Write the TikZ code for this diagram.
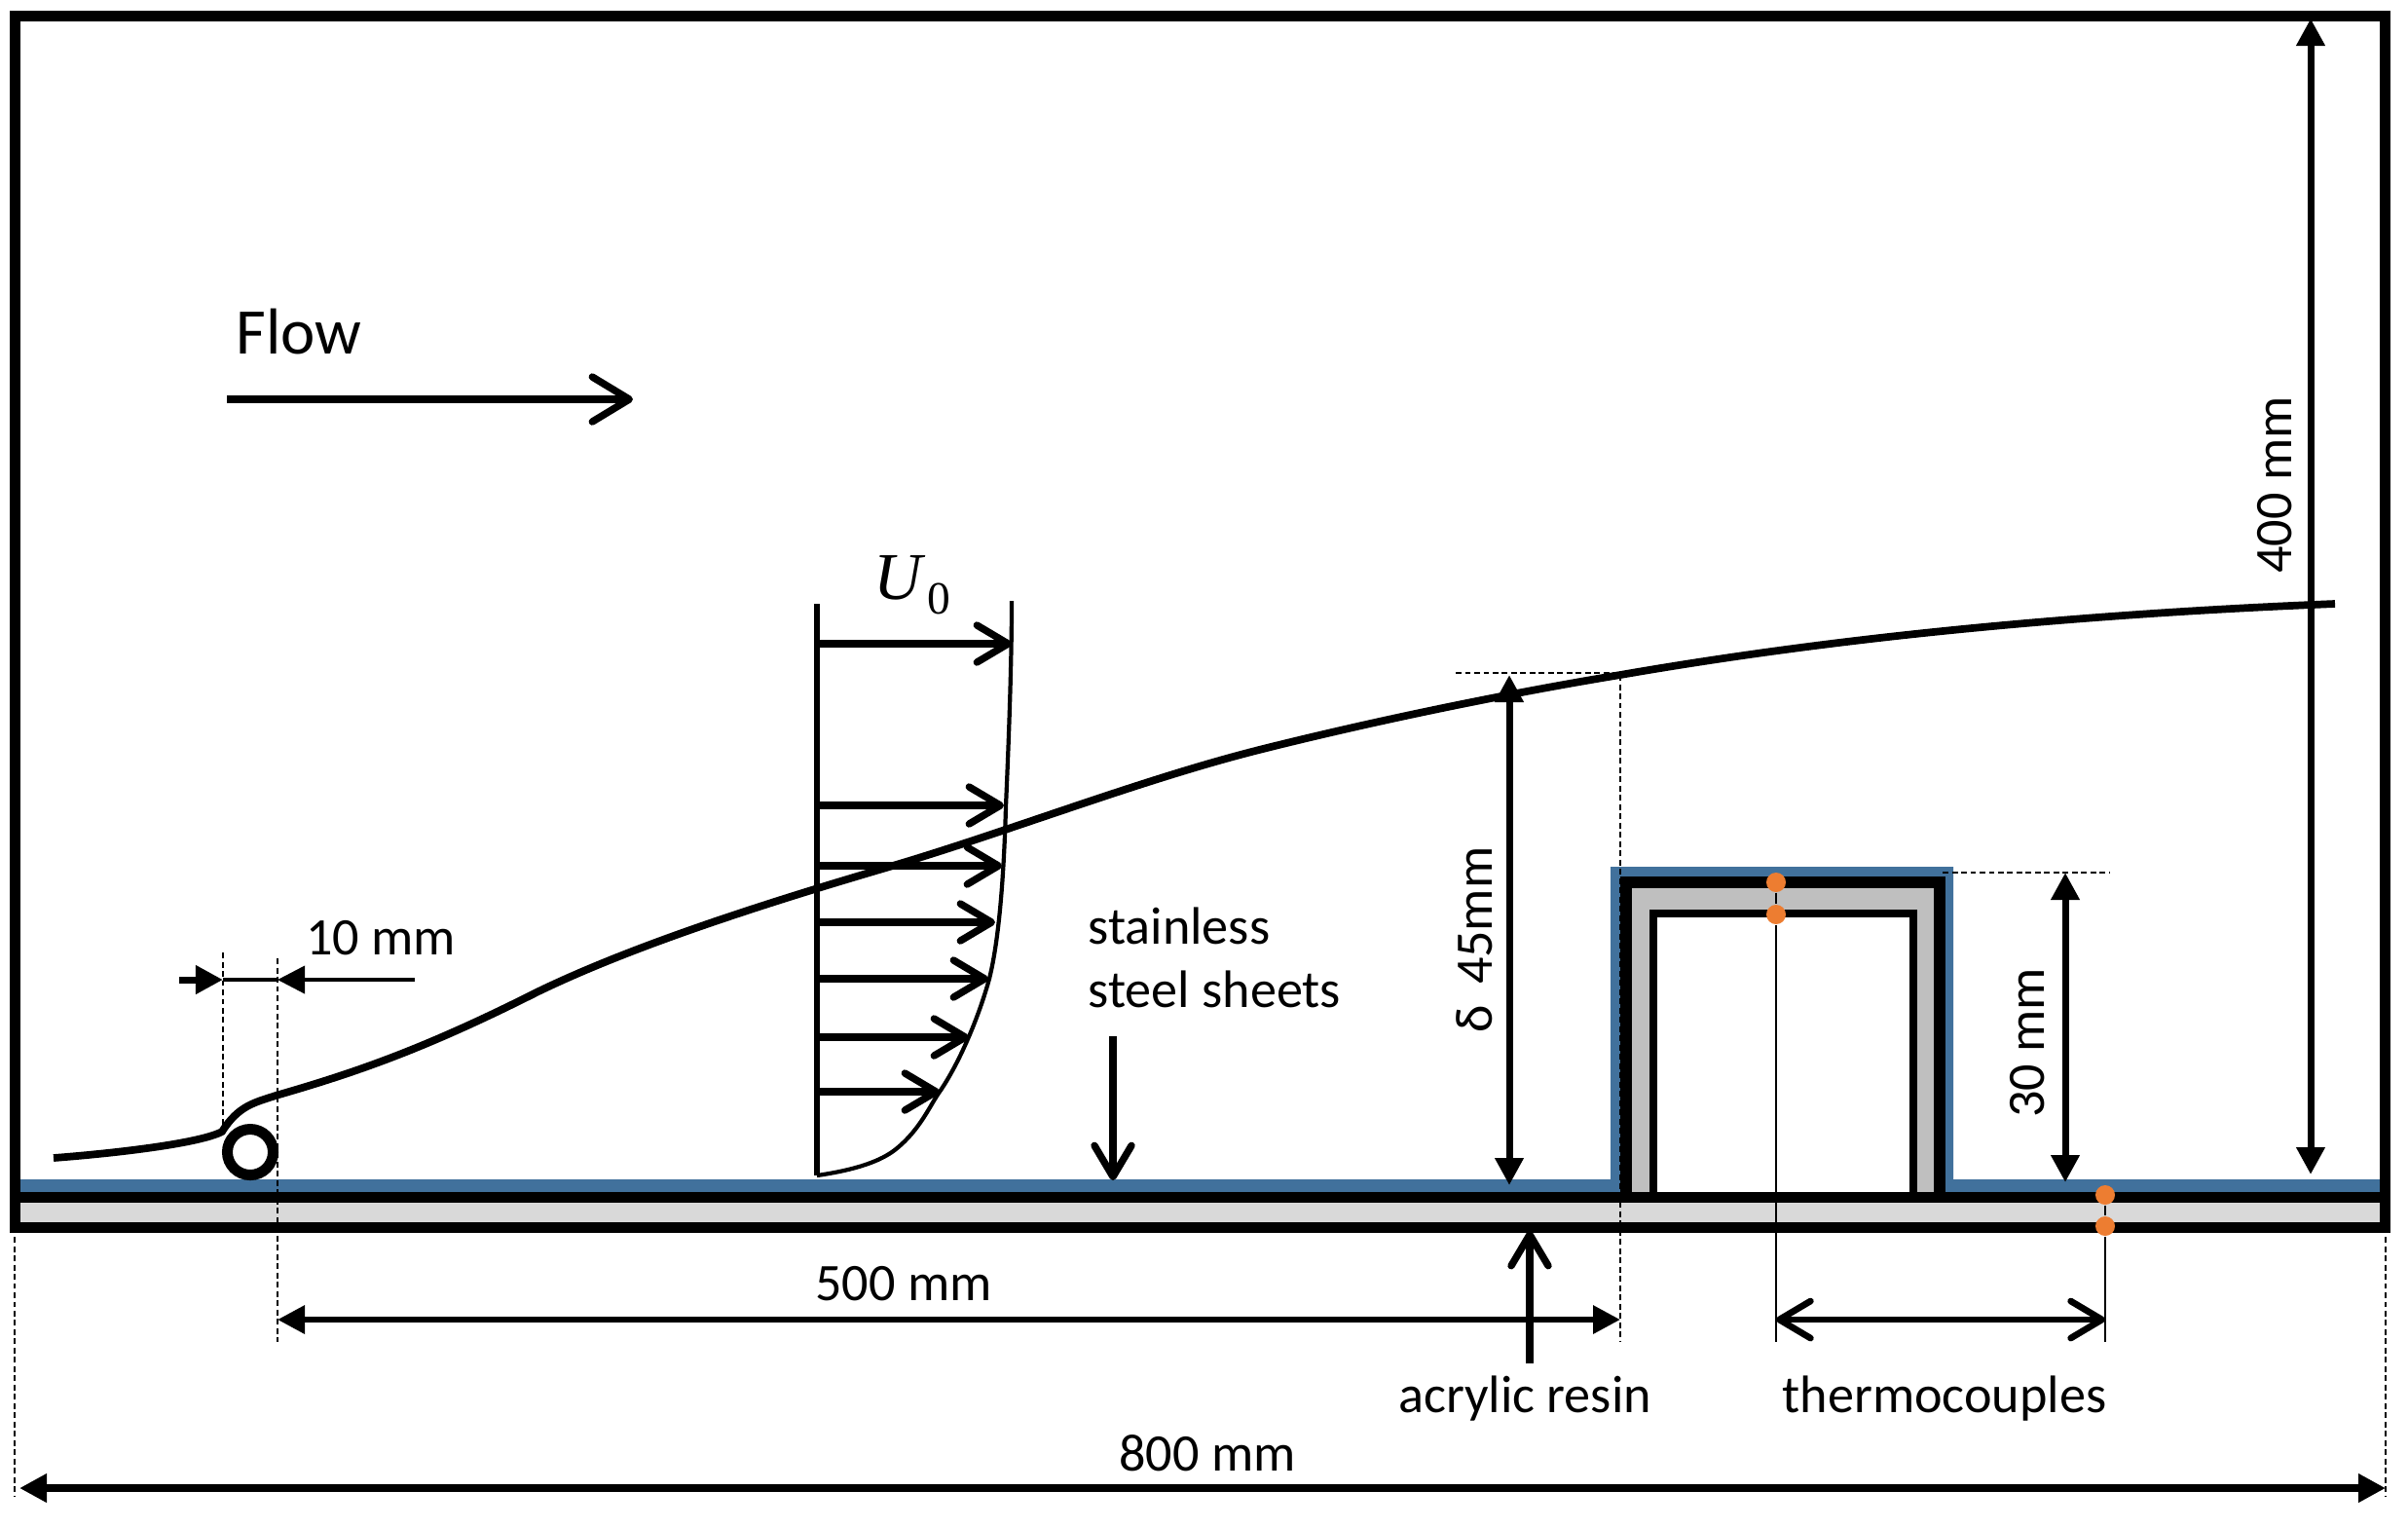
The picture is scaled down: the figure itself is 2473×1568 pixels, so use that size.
\documentclass[tikz,border=0pt]{standalone}
\usepackage{fontspec}
\setmainfont{Carlito}
\newfontfamily\symbfont{Liberation Serif}
\usetikzlibrary{arrows.meta}
\definecolor{sheetblue}{HTML}{41719C}
\definecolor{couple}{HTML}{ED7D31}
\definecolor{resin}{HTML}{D9D9D9}
\definecolor{wallgray}{HTML}{BFBFBF}
\tikzset{
	solidtip/.tip={Triangle[length=0.28cm,width=0.28cm]},
	barbtip/.tip={Straight Barb[length=0.32cm,width=0.38cm,round]},
	leader/.style={line width=0.55pt,dash pattern=on 1.7pt off 1pt},
	probe/.style={line width=0.5pt},
	barb/.style={-{barbtip},line width=2.1pt},
	lbl/.style={font=\fontsize{15.4}{18.5}\selectfont,inner sep=0pt},
	dot/.style={circle,fill=couple,inner sep=0pt,minimum size=0.2cm}
}
\begin{document}
\begin{tikzpicture}[x=0.01cm,y=-0.01cm]
\useasboundingbox (0,0) rectangle (2473,1568);
% blue sheet over the base and the box
\fill[sheetblue] (21,1211) -- (1654,1211) -- (1654,890) -- (2006,890) -- (2006,1211)
	-- (2444,1211) -- (2444,1229) -- (21,1229) -- cycle;
% box
\draw[line width=3.4pt,fill=wallgray] (1669.5,1229) -- (1669.5,905.5) -- (1992,905.5) -- (1992,1229);
\draw[line width=2.3pt,fill=white] (1698,1229) -- (1698,938) -- (1965,938) -- (1965,1229);
% base and tunnel
\draw[line width=3.13pt,fill=resin] (15.5,1229.5) rectangle (2449.5,1260.5);
\draw[line width=3.13pt] (15.5,16.5) rectangle (2449.5,1260.5);
% rod and boundary layer
\node[draw,circle,line width=3.13pt,minimum size=0.47cm,inner sep=0pt] (rod) at (257,1183) {};
\draw[line width=2.2pt] (55,1189) .. controls (120,1184) and (205,1174) .. (228,1162)
	.. controls (245,1135) and (262,1132) .. (283,1125)
	.. controls (370,1100) and (440,1075) .. (553,1018)
	.. controls (640,976) and (760,935) .. (910,891)
	.. controls (1030,856) and (1170,801) .. (1293,770)
	.. controls (1420,738) and (1560,710) .. (1664,693)
	.. controls (1900,652) and (2150,630) .. (2398,620);
% velocity profile
\coordinate (wallt) at (839,620);
\coordinate (wallb) at (839,1207);
\draw[line width=1.7pt] (wallt) -- (wallb);
\draw[line width=1.2pt] (wallb) .. controls (880,1201) and (905,1192) .. (920,1180)
	.. controls (945,1160) and (955,1135) .. (965,1121)
	.. controls (985,1092) and (1005,1045) .. (1016,1005)
	.. controls (1026,965) and (1031,900) .. (1033,828)
	.. controls (1036,760) and (1039,680) .. (1039,617);
\foreach \yv/\xv in {661/1039,827/1031,889/1029,947/1022,1005/1015,1065/995,1121/965} {
	\coordinate (vs\yv) at (839,\yv);
	\coordinate (ve\yv) at (\xv,\yv);
	\draw[barb] (vs\yv) -- (ve\yv);}
\node[font=\fontsize{19.5}{24}\symbfont,inner sep=0pt] (u0) at (937,601)
	{\textit{U}\kern0.6pt\raisebox{-4.3pt}{\fontsize{13.5}{16}\selectfont 0}};
% flow
\node[font=\fontsize{19}{23}\selectfont,inner sep=0pt] (flow) at (307,341) {Flow};
\coordinate (flowa) at (233,410);
\coordinate (flowb) at (650,410);
\draw[-{Straight Barb[length=0.38cm,width=0.46cm,round]},line width=2.1pt] (flowa) -- (flowb);
% 10 mm
\coordinate (roda) at (229,1006);
\coordinate (rodb) at (285,1006);
\coordinate (rodc) at (184,1006);
\coordinate (rodd) at (426,1006);
\draw[leader] (229,978) -- (229,1162);
\draw[leader] (285,984) -- (285,1378);
\draw[-{solidtip},line width=2pt] (rodc) -- (roda);
\draw[line width=1.1pt] (roda) -- (rodb);
\draw[-{solidtip},line width=1.1pt] (rodd) -- (rodb);
\node[lbl] (lten) at (391,963) {10 mm};
% 500 mm and 800 mm
\coordinate (fa) at (285,1355);
\coordinate (fb) at (1664,1355);
\draw[leader] (1664,693) -- (1664,1378);
\draw[{solidtip}-{solidtip},line width=1.8pt] (fa) -- (fb);
\node[lbl] (lfive) at (928,1318) {500 mm};
\coordinate (ea) at (20,1528);
\coordinate (eb) at (2450,1528);
\coordinate (ec) at (15,1537);
\coordinate (ed) at (2450,1537);
\draw[leader] (15,1270) -- (ec);
\draw[leader] (2450,1270) -- (ed);
\draw[{solidtip}-{solidtip},line width=2.2pt] (ea) -- (eb);
\node[lbl] (leight) at (1240,1492) {800 mm};
% heights
\coordinate (ha) at (2373,19);
\coordinate (hb) at (2373,1206);
\draw[{solidtip}-{solidtip},line width=2pt] (ha) -- (hb);
\node[lbl,rotate=90] (lfour) at (2336,498) {400 mm};
\coordinate (da) at (1550,693);
\coordinate (db) at (1550,1217);
\draw[leader] (1495,691) -- (1664,691);
\draw[{solidtip}-{solidtip},line width=2pt] (da) -- (db);
\node[lbl,rotate=90] (ldelta) at (1514,965) {δ \,45mm};
\coordinate (ba) at (2121,896);
\coordinate (bb) at (2121,1214);
\draw[leader] (1995,896) -- (2167,896);
\draw[{solidtip}-{solidtip},line width=2pt] (ba) -- (bb);
\node[lbl,rotate=90] (lthirty) at (2082,1071) {30 mm};
% thermocouples
\node[dot] (tca) at (1824,906) {};
\node[dot] (tcb) at (1824,939) {};
\node[dot] (tcc) at (2162,1227) {};
\node[dot] (tcd) at (2162,1259) {};
\coordinate (tce) at (1824,1378);
\coordinate (tcf) at (2162,1378);
\coordinate (tcg) at (1824,1355);
\coordinate (tch) at (2162,1355);
\draw[probe] (tca) -- (tcb);
\draw[probe] (tcb) -- (tce);
\draw[probe] (tcc) -- (tcd);
\draw[probe] (tcd) -- (tcf);
\draw[{barbtip}-{barbtip},line width=1.9pt] (tcg) -- (tch);
\node[lbl] (ltc) at (1997,1436) {thermocouples};
% sheet and resin labels
\node[lbl,align=left,anchor=north west] (lsteel) at (1117,931) {stainless\\steel sheets};
\coordinate (sa) at (1143,1064);
\coordinate (sb) at (1143,1212);
\draw[barb] (sa) -- (sb);
\coordinate (ra) at (1571,1400);
\coordinate (rb) at (1571,1264);
\draw[barb] (ra) -- (rb);
\node[lbl] (lres) at (1566,1436) {acrylic resin};
\end{tikzpicture}
\end{document}
